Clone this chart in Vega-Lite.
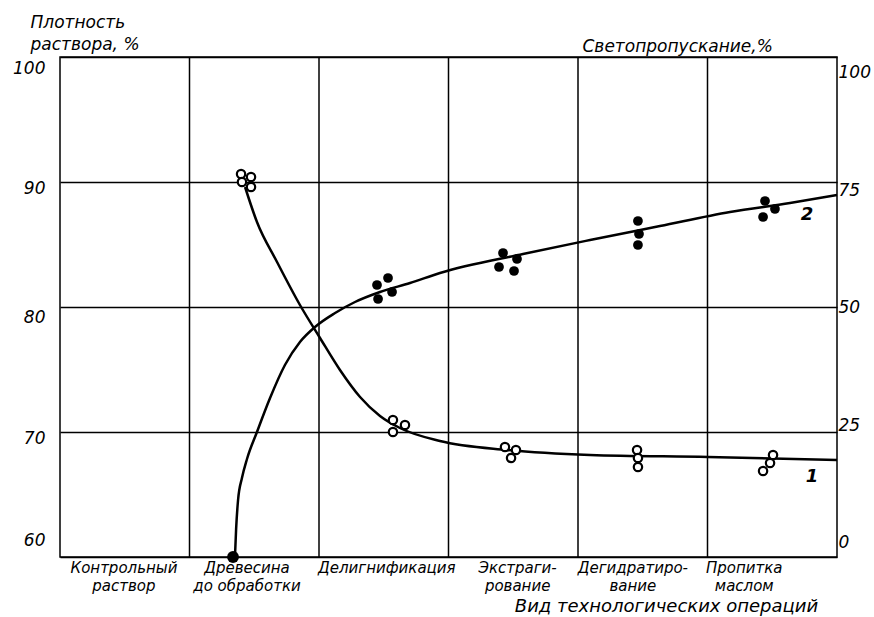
{
  "$schema": "https://vega.github.io/schema/vega-lite/v6.json",
  "width": 777,
  "height": 500,
  "autosize": "none",
  "padding": {"left": 60, "top": 57, "right": 37, "bottom": 60},
  "background": "white",
  "config": {
    "font": "DejaVu Sans",
    "view": {"stroke": "black", "strokeWidth": 1.5},
    "axis": {
      "labelFont": "DejaVu Sans",
      "labelFontStyle": "italic",
      "labelColor": "black",
      "titleFont": "DejaVu Sans",
      "titleFontStyle": "italic",
      "titleFontWeight": "normal",
      "titleColor": "black"
    }
  },
  "datasets": {
    "bounds": [{"u": 1}, {"u": 2}, {"u": 3}, {"u": 4}, {"u": 5}],
    "curve1": [
      {"u": 1.429, "density": 89.6},
      {"u": 1.521, "density": 86.8},
      {"u": 1.676, "density": 83.6},
      {"u": 1.853, "density": 80.16},
      {"u": 2.008, "density": 77.52},
      {"u": 2.162, "density": 74.96},
      {"u": 2.317, "density": 72.8},
      {"u": 2.471, "density": 71.28},
      {"u": 2.625, "density": 70.32},
      {"u": 2.934, "density": 69.28},
      {"u": 3.452, "density": 68.56},
      {"u": 4.093, "density": 68.16},
      {"u": 5.004, "density": 68.0},
      {"u": 6.0, "density": 67.76}
    ],
    "pts1": [
      {"u": 1.398, "density": 90.64},
      {"u": 1.475, "density": 90.4},
      {"u": 1.405, "density": 90.0},
      {"u": 1.475, "density": 89.6},
      {"u": 2.571, "density": 70.96},
      {"u": 2.664, "density": 70.56},
      {"u": 2.571, "density": 70.0},
      {"u": 3.436, "density": 68.8},
      {"u": 3.521, "density": 68.56},
      {"u": 3.483, "density": 67.92},
      {"u": 4.456, "density": 68.56},
      {"u": 4.463, "density": 67.92},
      {"u": 4.463, "density": 67.2},
      {"u": 5.506, "density": 68.16},
      {"u": 5.483, "density": 67.52},
      {"u": 5.429, "density": 66.88}
    ],
    "lab1": [{"u": 5.807, "density": 66.4, "label": "1"}],
    "curve2": [
      {"u": 1.351, "t": 0},
      {"u": 1.36, "t": 5.6},
      {"u": 1.375, "t": 11.4},
      {"u": 1.405, "t": 15.8},
      {"u": 1.444, "t": 19.6},
      {"u": 1.521, "t": 25},
      {"u": 1.622, "t": 31.8},
      {"u": 1.737, "t": 38.4},
      {"u": 1.853, "t": 43},
      {"u": 1.969, "t": 46},
      {"u": 2.124, "t": 48.8},
      {"u": 2.278, "t": 51},
      {"u": 2.471, "t": 53},
      {"u": 2.703, "t": 54.8},
      {"u": 2.934, "t": 56.8},
      {"u": 3.575, "t": 60.6},
      {"u": 4.093, "t": 63.4},
      {"u": 4.633, "t": 66.2},
      {"u": 5.174, "t": 69},
      {"u": 5.637, "t": 70.8},
      {"u": 6.0, "t": 72.4}
    ],
    "pts2": [
      {"u": 2.448, "t": 54.4},
      {"u": 2.533, "t": 55.8},
      {"u": 2.564, "t": 53.0},
      {"u": 2.456, "t": 51.6},
      {"u": 3.421, "t": 60.8},
      {"u": 3.529, "t": 59.6},
      {"u": 3.39, "t": 58.0},
      {"u": 3.506, "t": 57.2},
      {"u": 4.463, "t": 67.2},
      {"u": 4.471, "t": 64.6},
      {"u": 4.463, "t": 62.4},
      {"u": 5.444, "t": 71.2},
      {"u": 5.521, "t": 69.6},
      {"u": 5.429, "t": 68.0}
    ],
    "start2": [{"u": 1.336, "t": 0}],
    "lab2": [{"u": 5.768, "t": 68.4, "label": "2"}]
  },
  "encoding": {
    "x": {
      "field": "u",
      "type": "quantitative",
      "scale": {"domain": [0, 6], "nice": false, "zero": false},
      "axis": {
        "values": [0.49, 1.44, 2.52, 3.53, 4.42, 5.28],
        "labelExpr": "datum.value < 1 ? ['Контрольный', 'раствор'] : datum.value < 2 ? ['Древесина', 'до обработки'] : datum.value < 3 ? 'Делигнификация' : datum.value < 4 ? ['Экстраги-', 'рование'] : datum.value < 5 ? ['Дегидратиро-', 'вание'] : ['Пропитка', 'маслом']",
        "grid": false,
        "ticks": false,
        "domain": false,
        "labelFont": "DejaVu Sans",
        "labelFontStyle": "italic",
        "labelFontSize": 15,
        "labelLineHeight": 18,
        "labelPadding": 3,
        "labelFlush": false,
        "labelOverlap": false,
        "title": "Вид технологических операций",
        "titleFontSize": 18,
        "titleX": 606,
        "titleY": 49,
        "titleAlign": "center",
        "titleBaseline": "middle"
      }
    }
  },
  "layer": [
    {
      "data": {"name": "bounds"},
      "mark": {"type": "rule", "color": "black", "strokeWidth": 1.5}
    },
    {
      "encoding": {
        "y": {
          "field": "density",
          "type": "quantitative",
          "scale": {"domain": [60, 100], "nice": false, "zero": false},
          "axis": {
            "orient": "left",
            "values": [60, 70, 80, 90, 100],
            "grid": true,
            "gridColor": "black",
            "gridWidth": 1.5,
            "gridOpacity": 1,
            "ticks": false,
            "domain": false,
            "labelFontStyle": "italic",
            "labelFontSize": 17,
            "labelPadding": 15,
            "labelOffset": {
              "condition": [
                {"test": "datum.value == 100", "value": 11},
                {"test": "datum.value == 60", "value": -17},
                {"test": "datum.value == 80", "value": 10}
              ],
              "value": 6
            },
            "title": ["Плотность", "раствора, %"],
            "titleFontSize": 17,
            "titleLineHeight": 22,
            "titleAngle": 0,
            "titleAlign": "left",
            "titleBaseline": "middle",
            "titleX": -30,
            "titleY": -35
          }
        }
      },
      "layer": [
        {
          "data": {"name": "curve1"},
          "mark": {"type": "line", "color": "black", "strokeWidth": 2.5, "interpolate": "monotone"}
        },
        {
          "data": {"name": "pts1"},
          "mark": {"type": "point", "shape": "circle", "filled": true, "fill": "white", "stroke": "black", "strokeWidth": 2.2, "size": 70, "opacity": 1}
        },
        {
          "data": {"name": "lab1"},
          "mark": {"type": "text", "font": "DejaVu Sans", "fontSize": 18, "fontWeight": "bold", "fontStyle": "italic", "color": "black"},
          "encoding": {"text": {"field": "label"}}
        }
      ]
    },
    {
      "encoding": {
        "y": {
          "field": "t",
          "type": "quantitative",
          "scale": {"domain": [0, 100], "nice": false, "zero": false},
          "axis": {
            "orient": "right",
            "values": [0, 25, 50, 75, 100],
            "grid": false,
            "ticks": false,
            "domain": false,
            "labelFontStyle": "italic",
            "labelFontSize": 17,
            "labelPadding": 1,
            "labelOffset": {
              "condition": [
                {"test": "datum.value == 100", "value": 15},
                {"test": "datum.value == 75", "value": 8},
                {"test": "datum.value == 25", "value": -7},
                {"test": "datum.value == 0", "value": -15}
              ],
              "value": 0
            },
            "title": "Светопропускание,%",
            "titleFontSize": 17,
            "titleAngle": 0,
            "titleAlign": "left",
            "titleBaseline": "middle",
            "titleX": -255,
            "titleY": -11
          }
        }
      },
      "layer": [
        {
          "data": {"name": "curve2"},
          "mark": {"type": "line", "color": "black", "strokeWidth": 2.5, "interpolate": "monotone"}
        },
        {
          "data": {"name": "pts2"},
          "mark": {"type": "point", "shape": "circle", "filled": true, "color": "black", "size": 95, "opacity": 1}
        },
        {
          "data": {"name": "start2"},
          "mark": {"type": "point", "shape": "circle", "filled": true, "color": "black", "size": 140, "opacity": 1}
        },
        {
          "data": {"name": "lab2"},
          "mark": {"type": "text", "font": "DejaVu Sans", "fontSize": 18, "fontWeight": "bold", "fontStyle": "italic", "color": "black"},
          "encoding": {"text": {"field": "label"}}
        }
      ]
    }
  ],
  "resolve": {"scale": {"y": "independent"}}
}
